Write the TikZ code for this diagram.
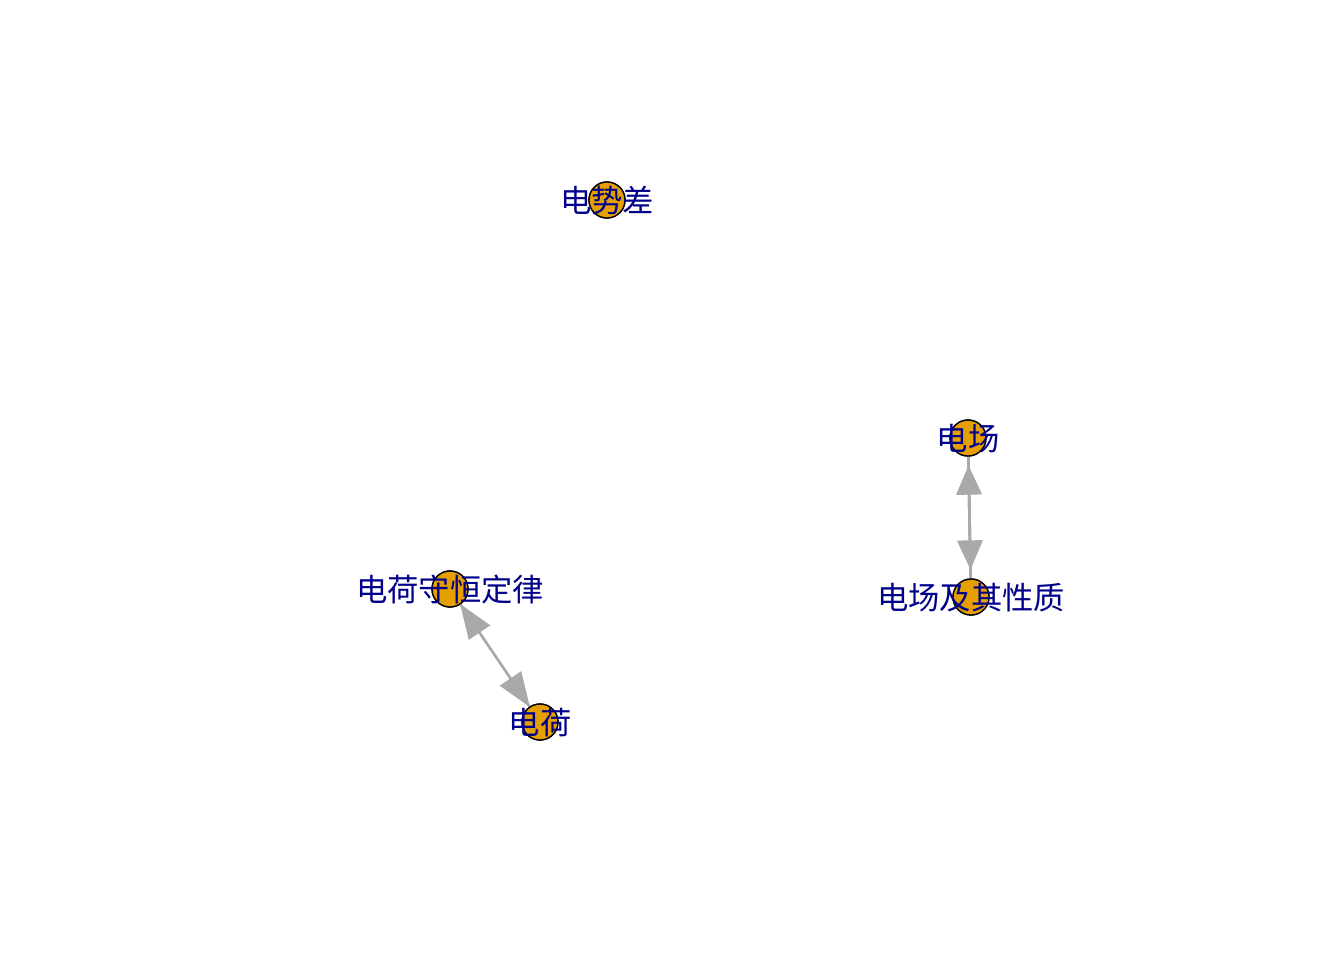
\documentclass[tikz,border=0pt]{standalone}
\usepackage{fontspec}
\newfontfamily\cjk{Noto Sans CJK SC}
\usetikzlibrary{arrows.meta}
\definecolor{vfill}{HTML}{E69F00}
\definecolor{lblcol}{RGB}{0,0,139}
\definecolor{edgecol}{HTML}{A9A9A9}
\begin{document}
\begin{tikzpicture}[x=0.75pt,y=-0.75pt,
  vert/.style={circle,draw=black,line width=1pt,fill=vfill,minimum size=27pt,inner sep=0pt,outer sep=0pt},
  lbl/.style={text=lblcol,font=\cjk\fontsize{23.5pt}{23.5pt}\selectfont,inner sep=0pt},
  edgeline/.style={draw=edgecol,line width=2pt},
  edgev/.style={draw=edgecol,line width=2pt,shorten >=7pt,-{Triangle[length=22pt,width=19pt]}},
  edged/.style={draw=edgecol,line width=1.8pt,-{Triangle[length=26pt,width=19pt]}}]
\useasboundingbox (0,0) rectangle (1344,960);
% vertices (for anchoring)
\node[vert] (v1) at (607,200) {};
\node[vert] (v2) at (968,438) {};
\node[vert] (v3) at (971,597) {};
\node[vert] (v4) at (450,589) {};
\node[vert] (v5) at (540,722) {};
% edges
\draw[edgeline] (v2) -- (v3);
\draw[edgev] (v3) -- (v2);
\draw[edgev] (v2) -- (v3);
\draw[edged] (v5) -- (v4);
\draw[edged] (v4) -- (v5);
% redraw vertices over edges
\node[vert] at (607,200) {};
\node[vert] at (968,438) {};
\node[vert] at (971,597) {};
\node[vert] at (450,589) {};
\node[vert] at (540,722) {};
% labels
\node[lbl] (l1) at (607,201) {电势差};
\node[lbl] (l2) at (968,439) {电场};
\node[lbl] (l3) at (971,598) {电场及其性质};
\node[lbl] (l4) at (450,590) {电荷守恒定律};
\node[lbl] (l5) at (540,723) {电荷};
\end{tikzpicture}
\end{document}
